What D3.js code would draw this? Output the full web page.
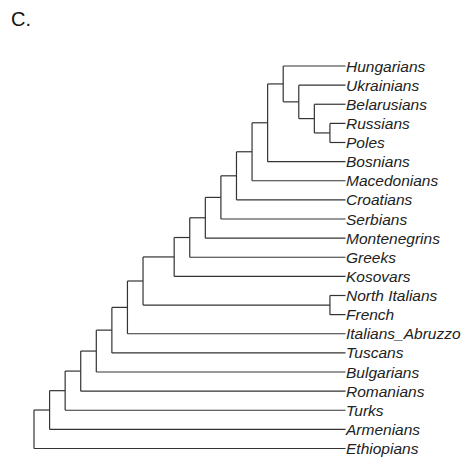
<!DOCTYPE html>
<html>
<head>
<meta charset="utf-8">
<script src="https://cdn.jsdelivr.net/npm/d3@7"></script>
<style>
  body { margin: 0; background: #fff; }
</style>
</head>
<body>
<script>
var width = 476, height = 457;

// leaves, top to bottom, with their parent clade
var leafNames = ["Hungarians", "Ukrainians", "Belarusians", "Russians", "Poles", "Bosnians",
  "Macedonians", "Croatians", "Serbians", "Montenegrins", "Greeks", "Kosovars",
  "North Italians", "French", "Italians_Abruzzo", "Tuscans", "Bulgarians", "Romanians",
  "Turks", "Armenians", "Ethiopians"];
var leafParents = ["n16", "n17", "n18", "n19", "n19", "n15",
  "n14", "n13", "n12", "n11", "n10", "n9",
  "nf", "nf", "n6", "n5", "n4", "n3",
  "n2", "n1", "n0"];

// internal clades and the depth (node level) of each
var cladeIds     = ["n0", "n1", "n2", "n3", "n4", "n5", "n6", "n7", "n9", "nf", "n10", "n11", "n12", "n13", "n14", "n15", "n16", "n17", "n18", "n19"];
var cladeParents = [null, "n0", "n1", "n2", "n3", "n4", "n5", "n6", "n7", "n7", "n9", "n10", "n11", "n12", "n13", "n14", "n15", "n16", "n17", "n18"];
var cladeLevels  = [0, 1, 2, 3, 4, 5, 6, 7, 9, 19, 10, 11, 12, 13, 14, 15, 16, 17, 18, 19];
var leafLevel = 20;

var rows = cladeIds.map(function (id, i) {
  return { id: id, parent: cladeParents[i], level: cladeLevels[i] };
}).concat(leafNames.map(function (name, i) {
  return { id: name, parent: leafParents[i], level: leafLevel, leaf: true };
}));

var root = d3.stratify()
  .id(function (d) { return d.id; })
  .parentId(function (d) { return d.parent; })(rows);

var x = d3.scaleLinear().domain([0, leafLevel]).range([34, 345.5]);
var y = d3.scalePoint().domain(leafNames).range([66, 448.5]);

root.eachAfter(function (n) {
  n.px = x(n.data.level);
  if (!n.children) n.py = y(n.id);
  else {
    var ys = n.children.map(function (c) { return c.py; });
    n.py = (d3.min(ys) + d3.max(ys)) / 2;
  }
});

var svg = d3.select('body').append('svg').attr('width', width).attr('height', height);

svg.append('text')
  .attr('x', 11).attr('y', 26)
  .attr('font-family', 'Liberation Sans, Arial, sans-serif')
  .attr('font-size', 20)
  .attr('fill', '#111')
  .text('C.');

var g = svg.append('g')
  .attr('stroke', '#333')
  .attr('stroke-width', 1.2)
  .attr('fill', 'none');

// horizontal branches
g.selectAll('line.h')
  .data(root.descendants().filter(function (n) { return n.parent; }))
  .enter().append('line')
  .attr('class', 'h')
  .attr('x1', function (n) { return n.parent.px; })
  .attr('x2', function (n) { return n.px; })
  .attr('y1', function (n) { return n.py; })
  .attr('y2', function (n) { return n.py; });

// vertical connectors
g.selectAll('line.v')
  .data(root.descendants().filter(function (n) { return n.children; }))
  .enter().append('line')
  .attr('class', 'v')
  .attr('x1', function (n) { return n.px; })
  .attr('x2', function (n) { return n.px; })
  .attr('y1', function (n) { return d3.min(n.children, function (c) { return c.py; }); })
  .attr('y2', function (n) { return d3.max(n.children, function (c) { return c.py; }); });

svg.append('g').selectAll('text')
  .data(root.leaves())
  .enter().append('text')
  .attr('x', function (n) { return n.px + 0.5; })
  .attr('y', function (n) { return n.py; })
  .attr('dy', '0.36em')
  .attr('font-family', 'Liberation Sans, Arial, sans-serif')
  .attr('font-style', 'italic')
  .attr('font-size', 15.5)
  .attr('fill', '#222')
  .text(function (n) { return n.id; });
</script>
</body>
</html>
